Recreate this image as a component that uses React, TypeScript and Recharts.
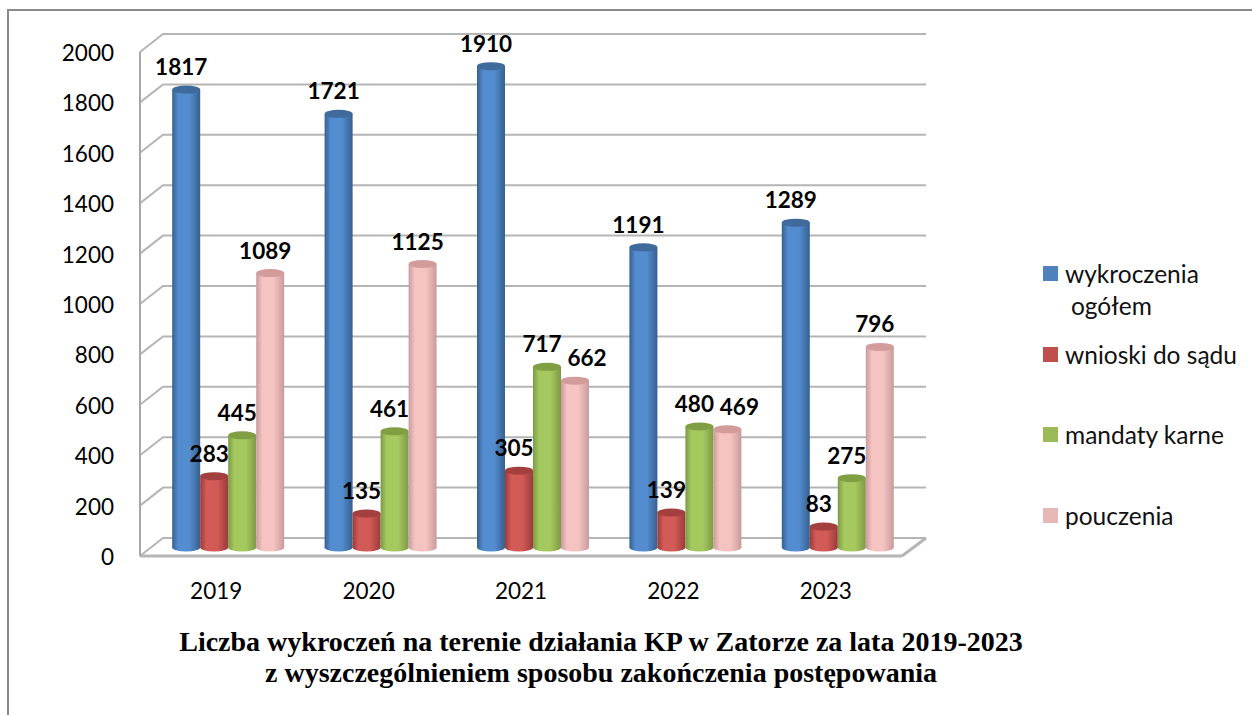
import { Bar, BarChart, CartesianGrid, LabelList, Legend, XAxis, YAxis } from 'recharts';

const years = ['2019', '2020', '2021', '2022', '2023'];
const wykroczeniaOgolem = [1817, 1721, 1910, 1191, 1289];
const wnioskiDoSadu = [283, 135, 305, 139, 83];
const mandatyKarne = [445, 461, 717, 480, 275];
const pouczenia = [1089, 1125, 662, 469, 796];
const yTicks = [0, 200, 400, 600, 800, 1000, 1200, 1400, 1600, 1800, 2000];

const chartData = years.map((year, i) => ({
  year,
  wykroczenia: wykroczeniaOgolem[i],
  wnioski: wnioskiDoSadu[i],
  mandaty: mandatyKarne[i],
  pouczenia: pouczenia[i],
}));

const FONT = 'Lato, sans-serif';

// the bars stand in the middle of the fake 3D floor
const DEPTH_X = 23;
const DEPTH_Y = 18;
const BAR_DX = 12.5;
const BAR_DY = -8.5;

function CylinderBar(props: any) {
  const { x, y, width, height, gradient, top } = props;
  const left = x + BAR_DX;
  const topY = y + BAR_DY;
  const rx = width / 2;
  const ry = 4;
  return (
    <g>
      <ellipse cx={left + rx} cy={topY + height} rx={rx} ry={ry} fill={`url(#${gradient})`} />
      <rect x={left} y={topY} width={width} height={height} fill={`url(#${gradient})`} />
      <ellipse cx={left + rx} cy={topY} rx={rx} ry={ry} fill={top} />
    </g>
  );
}

function GridLine3D(props: any) {
  const { x1, x2, y1 } = props;
  return (
    <g>
      <path
        d={`M${x1},${y1} L${x1 + DEPTH_X},${y1 - DEPTH_Y} L${x2 + DEPTH_X + 1},${y1 - DEPTH_Y}`}
        fill="none"
        stroke="#b5b5b5"
        strokeWidth={2}
      />
      {y1 > 540 ? (
        <path
          d={`M${x2},${y1} L${x2 + DEPTH_X + 1},${y1 - DEPTH_Y}`}
          fill="none"
          stroke="#b5b5b5"
          strokeWidth={3}
        />
      ) : null}
    </g>
  );
}

// 662 and 469 sit to the right of their bars, the rest slightly left
const nudged = ['662', '469'];

function BarValue(props: any) {
  const { x, y, width, value } = props;
  const shift = nudged.includes(String(value)) ? 12 : -5;
  return (
    <text
      x={x + BAR_DX + width / 2 + shift}
      y={y + BAR_DY - 23}
      textAnchor="middle"
      dominantBaseline="central"
      fontFamily={FONT}
      fontSize={22.5}
      fontWeight={700}
      fill="#000"
    >
      {value}
    </text>
  );
}

function LegendBox({ payload }: any) {
  return (
    <div style={{ fontFamily: FONT, fontSize: 24.5, color: '#111', lineHeight: '32px' }}>
      {(payload || []).map((item: any, i: number) => {
        const lines = String(item.value).split(' ');
        const twoLines = i === 0;
        return (
          <div key={item.value} style={{ position: 'relative', height: 80.5, paddingLeft: 22 }}>
            <span
              style={{
                position: 'absolute',
                left: 0,
                top: 8,
                width: 15,
                height: 15,
                background: item.color,
              }}
            />
            {twoLines ? (
              <>
                <div>{lines[0]}</div>
                <div style={{ paddingLeft: 6 }}>{lines[1]}</div>
              </>
            ) : (
              <div style={{ whiteSpace: 'nowrap' }}>{item.value}</div>
            )}
          </div>
        );
      })}
    </div>
  );
}

const series = [
  { key: 'wykroczenia', name: 'wykroczenia ogółem', color: '#4f81bd', gradient: 'gBlue', top: '#3f6a9c' },
  { key: 'wnioski', name: 'wnioski do sądu', color: '#c0504d', gradient: 'gRed', top: '#a33f3c' },
  { key: 'mandaty', name: 'mandaty karne', color: '#9bbb59', gradient: 'gGreen', top: '#7f9f42' },
  { key: 'pouczenia', name: 'pouczenia', color: '#e6b9b8', gradient: 'gPink', top: '#d29c9b' },
];

function gradientDef(id: string, edge: string, mid: string) {
  return (
    <linearGradient id={id} x1="0" y1="0" x2="1" y2="0" key={id}>
      <stop offset="0%" stopColor={edge} />
      <stop offset="22%" stopColor={mid} />
      <stop offset="62%" stopColor={mid} />
      <stop offset="100%" stopColor={edge} />
    </linearGradient>
  );
}

export default function App() {
  return (
    <div style={{ position: 'absolute', left: 0, top: 0, width: 1252, height: 715, overflow: 'hidden', background: '#fff' }}>
      <div
        style={{
          position: 'absolute',
          left: 7,
          top: 9,
          width: 1245,
          height: 706,
          boxSizing: 'border-box',
          borderLeft: '2px solid #8a8a8a',
          borderTop: '2px solid #8a8a8a',
        }}
      />
      <BarChart
        width={1252}
        height={715}
        data={chartData}
        margin={{ top: 52, right: 141, bottom: 129, left: 80 }}
        barCategoryGap={19.7}
        barGap={0}
        style={{ position: 'absolute', left: 0, top: 0 }}
      >
        <defs>
          {gradientDef('gBlue', '#36608f', '#538ccf')}
          {gradientDef('gRed', '#9a3c3a', '#d25a57')}
          {gradientDef('gGreen', '#7d9a45', '#a6c95f')}
          {gradientDef('gPink', '#c89c9b', '#f4c3c2')}
        </defs>
        <CartesianGrid vertical={false} horizontal={(p: any) => <GridLine3D key={p.y1} {...p} />} />
        <XAxis
          dataKey="year"
          height={30}
          axisLine={{ stroke: '#b5b5b5', strokeWidth: 3 }}
          tickLine={false}
          tickMargin={21}
          tick={{ fontFamily: FONT, fontSize: 22.5, fill: '#000' }}
        />
        <YAxis
          width={60}
          domain={[0, 2000]}
          ticks={yTicks}
          interval={0}
          axisLine={{ stroke: '#a8a8a8', strokeWidth: 2 }}
          tickLine={false}
          tickMargin={20}
          tick={{ fontFamily: FONT, fontSize: 22.5, fill: '#000', dy: 1 }}
        />
        <Legend
          layout="vertical"
          align="right"
          verticalAlign="middle"
          itemSorter={null as any}
          content={<LegendBox />}
          wrapperStyle={{ left: 1043, top: 258, width: 209 }}
        />
        {series.map((s) => (
          <Bar
            key={s.key}
            dataKey={s.key}
            name={s.name}
            fill={s.color}
            isAnimationActive={false}
            shape={(p: any) => <CylinderBar {...p} gradient={s.gradient} top={s.top} />}
          >
            <LabelList dataKey={s.key} content={<BarValue />} />
          </Bar>
        ))}
        <text x={601} y={651} textAnchor="middle" fontFamily="'Liberation Serif', serif" fontWeight={700} fontSize={28} fill="#000">
          Liczba wykroczeń na terenie działania KP w Zatorze za lata 2019-2023
        </text>
        <text x={601} y={682} textAnchor="middle" fontFamily="'Liberation Serif', serif" fontWeight={700} fontSize={28} fill="#000">
          z wyszczególnieniem sposobu zakończenia postępowania
        </text>
      </BarChart>
    </div>
  );
}
